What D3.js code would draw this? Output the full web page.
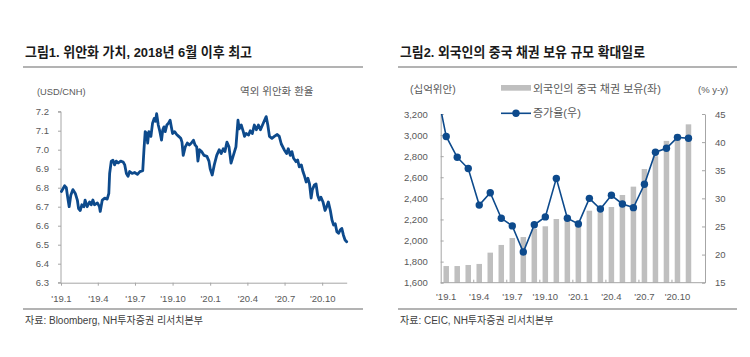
<!DOCTYPE html>
<html><head><meta charset="utf-8">
<script src="https://cdn.jsdelivr.net/npm/d3@7"></script>
<style>
html,body{margin:0;padding:0;background:#fff;}
svg{display:block;}
text{font-family:"Liberation Sans","Noto Sans CJK KR",Arial,sans-serif;}
</style></head>
<body>
<script>
// ---------- Figure 1 data: USD/CNH ----------
const cnhDates = ["2019-01-02","2019-01-10","2019-01-14","2019-01-18","2019-01-21","2019-01-25","2019-01-30","2019-02-05","2019-02-10","2019-02-13","2019-02-17","2019-02-21","2019-02-26","2019-03-01","2019-03-06","2019-03-12","2019-03-16","2019-03-20","2019-03-24","2019-03-31","2019-04-05","2019-04-07","2019-04-12","2019-04-18","2019-04-24","2019-04-28","2019-04-30","2019-05-04","2019-05-08","2019-05-12","2019-05-16","2019-05-21","2019-05-27","2019-06-02","2019-06-06","2019-06-10","2019-06-14","2019-06-18","2019-06-24","2019-06-30","2019-07-07","2019-07-13","2019-07-20","2019-07-23","2019-07-26","2019-07-30","2019-08-01","2019-08-04","2019-08-09","2019-08-13","2019-08-17","2019-08-20","2019-08-23","2019-08-27","2019-08-31","2019-09-04","2019-09-07","2019-09-10","2019-09-13","2019-09-17","2019-09-21","2019-09-25","2019-09-28","2019-10-01","2019-10-06","2019-10-11","2019-10-16","2019-10-21","2019-10-24","2019-10-27","2019-11-01","2019-11-06","2019-11-11","2019-11-16","2019-11-21","2019-11-25","2019-11-29","2019-12-02","2019-12-06","2019-12-11","2019-12-17","2019-12-24","2019-12-29","2020-01-01","2020-01-06","2020-01-11","2020-01-17","2020-01-23","2020-01-28","2020-02-02","2020-02-06","2020-02-11","2020-02-16","2020-02-21","2020-02-26","2020-03-04","2020-03-09","2020-03-12","2020-03-17","2020-03-22","2020-03-25","2020-03-29","2020-04-04","2020-04-08","2020-04-13","2020-04-18","2020-04-23","2020-04-28","2020-05-03","2020-05-08","2020-05-13","2020-05-17","2020-05-21","2020-05-25","2020-05-31","2020-06-06","2020-06-13","2020-06-18","2020-06-23","2020-06-30","2020-07-06","2020-07-10","2020-07-15","2020-07-19","2020-07-23","2020-07-29","2020-08-02","2020-08-06","2020-08-11","2020-08-15","2020-08-19","2020-08-23","2020-08-27","2020-08-31","2020-09-04","2020-09-07","2020-09-12","2020-09-16","2020-09-20","2020-09-24","2020-09-28","2020-10-03","2020-10-08","2020-10-12","2020-10-16","2020-10-21","2020-10-25","2020-10-29","2020-11-02","2020-11-06","2020-11-10","2020-11-14","2020-11-18","2020-11-22","2020-11-26","2020-11-30"];
const cnhValues = [6.78,6.81,6.80,6.74,6.70,6.76,6.79,6.77,6.735,6.69,6.68,6.71,6.70,6.735,6.70,6.725,6.71,6.735,6.71,6.72,6.70,6.675,6.735,6.745,6.74,6.77,6.875,6.94,6.945,6.92,6.94,6.93,6.94,6.935,6.92,6.875,6.86,6.885,6.875,6.88,6.87,6.885,6.89,7.00,7.095,7.085,7.035,7.095,7.07,7.14,7.165,7.15,7.19,7.13,7.095,7.05,7.105,7.12,7.095,7.13,7.14,7.155,7.12,7.085,7.095,7.08,7.07,7.06,7.04,6.97,7.015,7.035,7.025,7.035,7.05,7.025,7.015,6.94,7.00,6.99,6.97,6.965,6.94,6.90,6.867,6.92,6.97,7.00,6.98,7.005,6.99,7.04,7.015,6.93,6.965,7.015,7.155,7.11,7.13,7.095,7.07,7.085,7.077,7.10,7.085,7.13,7.105,7.13,7.105,7.13,7.155,7.174,7.13,7.07,7.06,7.07,7.08,7.07,7.03,7.00,6.98,7.005,6.97,6.99,6.955,6.937,6.946,6.91,6.92,6.885,6.86,6.83,6.85,6.82,6.745,6.79,6.815,6.82,6.76,6.735,6.75,6.725,6.68,6.70,6.725,6.68,6.63,6.604,6.61,6.568,6.56,6.577,6.586,6.55,6.525,6.516];
const cnhTickLabels = ["'19.1","'19.4","'19.7","'19.10","'20.1","'20.4","'20.7","'20.10"];
const cnhTickDates = ["2019-01-01","2019-04-01","2019-07-01","2019-10-01","2020-01-01","2020-04-01","2020-07-01","2020-10-01"];
const cnhYTicks = [6.3,6.4,6.5,6.6,6.7,6.8,6.9,7.0,7.1,7.2];

// ---------- Figure 2 data ----------
const months = ["19.1","19.2","19.3","19.4","19.5","19.6","19.7","19.8","19.9","19.10","19.11","19.12","20.1","20.2","20.3","20.4","20.5","20.6","20.7","20.8","20.9","20.10","20.11","20.12"];
const holdings = [1758,1758,1768,1778,1885,1958,2024,2033,2110,2135,2204,2190,2185,2283,2268,2318,2432,2511,2678,2800,2945,3010,3102,null];
const growth = [41.0,37.3,35.3,28.8,31.0,26.45,25.1,20.45,25.3,26.7,33.55,26.45,25.45,30.0,28.1,30.55,29.0,28.35,32.5,38.2,38.9,40.85,40.7,null];
const growthPrev = 50.7; // Dec 2018 value (off-scale, clipped)
const holdTicks = [1600,1800,2000,2200,2400,2600,2800,3000,3200];
const growthTicks = [15,20,25,30,35,40,45];
const monthTickLabels = ["'19.1","'19.4","'19.7","'19.10","'20.1","'20.4","'20.7","'20.10"];

const W = 750, H = 357;
const svg = d3.select("body").append("svg").attr("width", W).attr("height", H);

const axisCol = "#a6a6a6", txtCol = "#595959", blue = "#0d4a8c", darkTxt = "#1a1a1a";

// ---------- headers & footers ----------
function frame(x0, x1, title, titleLen, source) {
  svg.append("text").attr("x", x0 + 2).attr("y", 57).text(title)
    .attr("font-size", 13.5).attr("font-weight", "bold").attr("fill", darkTxt)
    .attr("textLength", titleLen).attr("lengthAdjust", "spacingAndGlyphs");
  svg.append("line").attr("x1", x0).attr("x2", x1).attr("y1", 67).attr("y2", 67)
    .attr("stroke", "#9a9a9a").attr("stroke-width", 1.3);
  svg.append("line").attr("x1", x0).attr("x2", x1).attr("y1", 309).attr("y2", 309)
    .attr("stroke", "#9a9a9a").attr("stroke-width", 1.3);
  svg.append("text").attr("x", x0 + 2).attr("y", 324).text(source)
    .attr("font-size", 10).attr("fill", "#404040");
}
frame(23, 363, "그림1. 위안화 가치, 2018년 6월 이후 최고", 227, "자료: Bloomberg, NH투자증권 리서치본부");
frame(398, 737, "그림2. 외국인의 중국 채권 보유 규모 확대일로", 245, "자료: CEIC, NH투자증권 리서치본부");

// ---------- Figure 1 ----------
(function(){
  const parse = d3.timeParse("%Y-%m-%d");
  const data = cnhDates.map((d,i)=>({date: parse(d), v: cnhValues[i]}));
  const x = d3.scaleTime().domain([parse("2019-01-01"), parse("2020-11-30")]).range([61, 346.7]);
  const y = d3.scaleLinear().domain([6.3, 7.2]).range([282.7, 111.7]);
  const g = svg.append("g");

  const ya = g.append("g").attr("transform", "translate(61,0)")
    .call(d3.axisLeft(y).tickValues(cnhYTicks).tickFormat(d3.format(".1f")).tickSize(3).tickPadding(9));
  const xa = g.append("g").attr("transform", "translate(0,282.7)")
    .call(d3.axisBottom(x).tickValues(cnhTickDates.map(parse)).tickFormat((d,i)=>cnhTickLabels[i]).tickSize(3).tickSizeOuter(0).tickPadding(10));
  [ya, xa].forEach(a => {
    a.select(".domain").attr("stroke", axisCol);
    a.selectAll(".tick line").attr("stroke", axisCol);
    a.selectAll("text").attr("fill", txtCol).attr("font-size", 9.5)
      .attr("font-family", "'Liberation Sans','Noto Sans CJK KR',sans-serif");
  });
  ya.select(".domain").attr("d", "M-3,111.7H0V282.7H-3");

  g.append("path").datum(data)
    .attr("d", d3.line().x(d=>x(d.date)).y(d=>y(d.v)))
    .attr("fill", "none").attr("stroke", blue).attr("stroke-width", 2.8)
    .attr("stroke-linejoin", "round").attr("stroke-linecap", "round");

  g.append("text").attr("x", 37).attr("y", 94.5).text("(USD/CNH)")
    .attr("font-size", 9.3).attr("fill", txtCol);
  g.append("text").attr("x", 240).attr("y", 95).text("역외 위안화 환율")
    .attr("font-size", 10.5).attr("fill", txtCol);
})();

// ---------- Figure 2 ----------
(function(){
  const x = d3.scaleBand().domain(months).range([440.7, 705]).paddingInner(0.5).paddingOuter(0.25);
  const yL = d3.scaleLinear().domain([1600, 3200]).range([282.7, 114]);
  const yR = d3.scaleLinear().domain([15, 45]).range([282.7, 114]);
  const g = svg.append("g");
  const cx = m => x(m) + x.bandwidth()/2;

  // bars
  g.append("g").selectAll("rect").data(months.map((m,i)=>({m, v: holdings[i]})).filter(d=>d.v!=null))
    .join("rect")
    .attr("x", d=>x(d.m)).attr("width", x.bandwidth())
    .attr("y", d=>yL(d.v)).attr("height", d=>yL(1600)-yL(d.v))
    .attr("fill", "#bfbfbf");

  // axes
  const la = g.append("g").attr("transform", "translate(440.7,0)")
    .call(d3.axisLeft(yL).tickValues(holdTicks).tickFormat(d3.format(",")).tickSize(-3).tickSizeOuter(0).tickPadding(13));
  const ra = g.append("g").attr("transform", "translate(705,0)")
    .call(d3.axisRight(yR).tickValues(growthTicks).tickSize(-3).tickSizeOuter(0).tickPadding(10));
  const tickMonths = months.filter((m,i)=>i%3===0);
  const ba = g.append("g").attr("transform", "translate(0,282.7)")
    .call(d3.axisBottom(x).tickValues(tickMonths).tickFormat((d,i)=>monthTickLabels[i]).tickSize(0).tickPadding(11));
  ba.select(".domain").attr("d", "M440.7,0H705");
  // tick marks at band boundaries every 3 months
  ba.selectAll(".bnd").data(tickMonths.slice(1)).join("line").attr("class","bnd")
    .attr("x1", d=>x(d) - x.step()*x.paddingInner()/2).attr("x2", d=>x(d) - x.step()*x.paddingInner()/2)
    .attr("y1", 0).attr("y2", -3).attr("stroke", axisCol);
  [la, ra, ba].forEach(a => {
    a.select(".domain").attr("stroke", axisCol);
    a.selectAll(".tick line").attr("stroke", axisCol);
    a.selectAll("text").attr("fill", txtCol).attr("font-size", 9.5)
      .attr("font-family", "'Liberation Sans','Noto Sans CJK KR',sans-serif");
  });

  // line (clipped to plot area)
  g.append("clipPath").attr("id", "clipR").append("rect")
    .attr("x", 440.7).attr("y", 114).attr("width", 705-440.7).attr("height", 282.7-114);
  const pts = [{x: cx(months[0]) - x.step(), v: growthPrev}]
    .concat(months.map((m,i)=>({x: cx(m), v: growth[i]})).filter(d=>d.v!=null));
  g.append("path").datum(pts).attr("clip-path", "url(#clipR)")
    .attr("d", d3.line().x(d=>d.x).y(d=>yR(d.v)))
    .attr("fill", "none").attr("stroke", blue).attr("stroke-width", 1.6);
  g.append("g").selectAll("circle").data(pts.slice(1)).join("circle")
    .attr("cx", d=>d.x).attr("cy", d=>yR(d.v)).attr("r", 3.7).attr("fill", blue);

  // labels & legend
  g.append("text").attr("x", 410).attr("y", 93).text("(십억위안)").attr("font-size", 10.5).attr("fill", txtCol);
  g.append("text").attr("x", 698).attr("y", 93).text("(% y-y)").attr("font-size", 9.5).attr("fill", txtCol);
  g.append("rect").attr("x", 501).attr("y", 85).attr("width", 30).attr("height", 5.7).attr("fill", "#bfbfbf");
  g.append("text").attr("x", 533).attr("y", 93).text("외국인의 중국 채권 보유(좌)").attr("font-size", 11).attr("fill", txtCol);
  g.append("line").attr("x1", 501).attr("x2", 531).attr("y1", 113.3).attr("y2", 113.3).attr("stroke", blue).attr("stroke-width", 1.6);
  g.append("circle").attr("cx", 516).attr("cy", 113.3).attr("r", 3.7).attr("fill", blue);
  g.append("text").attr("x", 533).attr("y", 117).text("증가율(우)").attr("font-size", 11).attr("fill", txtCol);
})();
</script>
</body></html>
